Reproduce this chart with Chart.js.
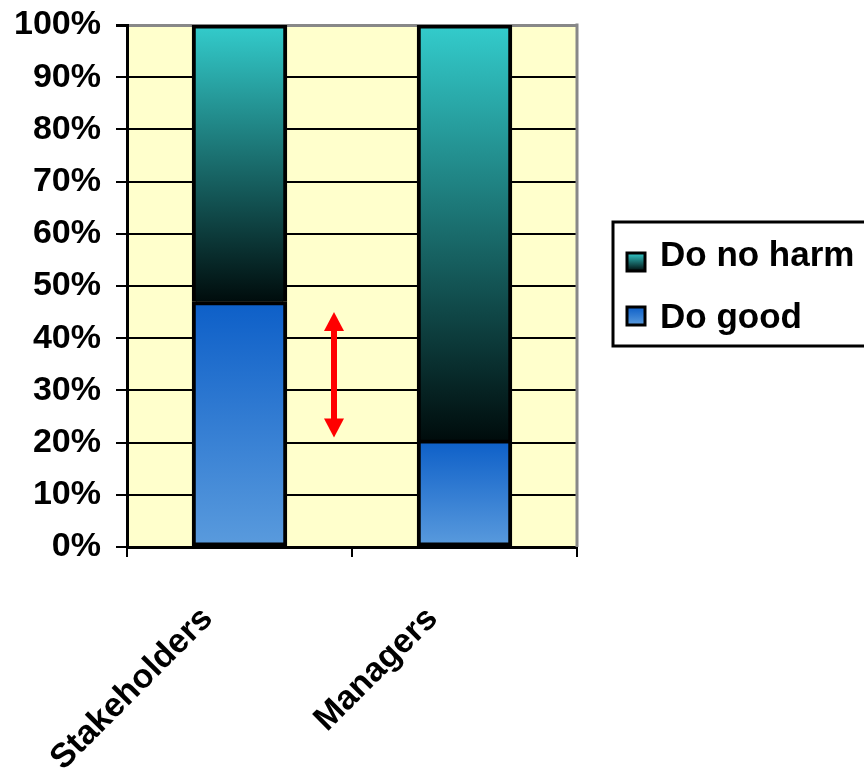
<!DOCTYPE html>
<html>
<head>
<meta charset="utf-8">
<script src="https://cdn.jsdelivr.net/npm/chart.js@4/dist/chart.umd.min.js"></script>
<style>
  html, body { margin: 0; padding: 0; background: #ffffff; }
  #wrap { width: 864px; height: 771px; }
</style>
</head>
<body>
<div id="wrap"><canvas id="c" width="864" height="771"></canvas></div>
<script>
// Survey groups and their split between the two answers (percent)
const categories = ['Stakeholders', 'Managers'];
const doGood = [47, 20.5];
const doNoHarm = [53, 79.5];
const seriesNames = ['Do good', 'Do no harm'];
const yTicks = [0, 10, 20, 30, 40, 50, 60, 70, 80, 90, 100];
// Span of the red double arrow between the groups (percent)
const gapArrow = [21, 45];

const FONT = '"Liberation Sans", Arial, sans-serif';

// Vertical gradient over one stacked segment
function segmentFill(ctx, top, bottom, fallback) {
  const chart = ctx.chart;
  const y = chart.scales.y;
  if (!chart.chartArea || !y) return fallback;
  const i = ctx.dataIndex;
  let lo, hi;
  if (ctx.datasetIndex === 0) { lo = 0; hi = doGood[i]; }
  else { lo = doGood[i]; hi = doGood[i] + doNoHarm[i]; }
  const g = chart.ctx.createLinearGradient(0, y.getPixelForValue(hi), 0, y.getPixelForValue(lo));
  g.addColorStop(0, top);
  g.addColorStop(1, bottom);
  return g;
}

const GOOD_TOP = '#0d5fc8', GOOD_BOT = '#5a9bdd';
const HARM_TOP = '#33cccc', HARM_BOT = '#000c0c';

const decor = {
  id: 'decor',
  beforeDraw(chart) {
    const { ctx, chartArea: a } = chart;
    ctx.save();
    ctx.fillStyle = '#ffffff';
    ctx.fillRect(0, 0, chart.width, chart.height);
    ctx.fillStyle = '#ffffcc';
    ctx.fillRect(a.left, a.top, a.right - a.left, a.bottom - a.top);
    ctx.restore();
  },
  beforeDatasetsDraw(chart) {
    const { ctx, chartArea: a } = chart;
    ctx.save();
    ctx.strokeStyle = '#888888';
    ctx.lineWidth = 3;
    ctx.beginPath();
    ctx.moveTo(a.right, a.top - 1.5);
    ctx.lineTo(a.right, a.bottom);
    ctx.stroke();
    ctx.restore();
  },
  afterDatasetsDraw(chart) {
    const { ctx } = chart;
    const xs = chart.scales.x, ys = chart.scales.y;
    // red double arrow
    const ax = xs.getPixelForValue(0.42);
    const yTop = ys.getPixelForValue(gapArrow[1]);
    const yBot = ys.getPixelForValue(gapArrow[0]);
    const head = 19, half = 10;
    ctx.save();
    ctx.fillStyle = '#ff0000';
    ctx.strokeStyle = '#ff0000';
    ctx.lineWidth = 6;
    ctx.beginPath();
    ctx.moveTo(ax, yTop + head - 1);
    ctx.lineTo(ax, yBot - head + 1);
    ctx.stroke();
    ctx.beginPath();
    ctx.moveTo(ax, yTop);
    ctx.lineTo(ax + half, yTop + head);
    ctx.lineTo(ax - half, yTop + head);
    ctx.closePath();
    ctx.fill();
    ctx.beginPath();
    ctx.moveTo(ax, yBot);
    ctx.lineTo(ax + half, yBot - head);
    ctx.lineTo(ax - half, yBot - head);
    ctx.closePath();
    ctx.fill();
    ctx.restore();

    // legend box
    ctx.save();
    ctx.fillStyle = '#ffffff';
    ctx.fillRect(613, 222, 260, 124);
    ctx.strokeStyle = '#000000';
    ctx.lineWidth = 3;
    ctx.strokeRect(613, 222, 260, 124);
    const items = [
      { name: seriesNames[1], top: HARM_TOP, bot: HARM_BOT, my: 262, ty: 256 },
      { name: seriesNames[0], top: GOOD_TOP, bot: GOOD_BOT, my: 316, ty: 318 }
    ];
    items.forEach(it => {
      const s = 18;
      const x0 = 627, y0 = it.my - s / 2;
      const g = ctx.createLinearGradient(0, y0, 0, y0 + s);
      g.addColorStop(0, it.top);
      g.addColorStop(1, it.bot);
      ctx.fillStyle = g;
      ctx.fillRect(x0, y0, s, s);
      ctx.lineWidth = 3;
      ctx.strokeStyle = '#000000';
      ctx.strokeRect(x0, y0, s, s);
      ctx.fillStyle = '#000000';
      ctx.font = 'bold 35px ' + FONT;
      ctx.textBaseline = 'middle';
      ctx.textAlign = 'left';
      ctx.fillText(it.name, 660, it.ty);
    });
    ctx.restore();
  }
};

new Chart(document.getElementById('c'), {
  type: 'bar',
  data: {
    labels: categories,
    datasets: [
      {
        label: seriesNames[0],
        data: doGood,
        backgroundColor: ctx => segmentFill(ctx, GOOD_TOP, GOOD_BOT, GOOD_TOP),
        borderColor: '#000000',
        borderWidth: 4,
        borderSkipped: false,
        inflateAmount: 0.5
      },
      {
        label: seriesNames[1],
        data: doNoHarm,
        backgroundColor: ctx => segmentFill(ctx, HARM_TOP, HARM_BOT, HARM_TOP),
        borderColor: '#000000',
        borderWidth: 4,
        borderSkipped: 'bottom',
        inflateAmount: 0.5
      }
    ]
  },
  options: {
    responsive: false,
    animation: false,
    devicePixelRatio: 1,
    layout: { padding: { top: 25, right: 287, left: 0, bottom: 0 } },
    categoryPercentage: 1,
    barPercentage: 0.42,
    plugins: {
      legend: { display: false },
      tooltip: { enabled: false }
    },
    scales: {
      x: {
        stacked: true,
        grid: {
          offset: true,
          drawOnChartArea: false,
          color: '#000000',
          lineWidth: 2,
          tickLength: 10
        },
        border: { color: '#000000', width: 3 },
        ticks: {
          minRotation: 45,
          maxRotation: 45,
          color: '#000000',
          font: { family: FONT, size: 34, weight: 'bold' },
          padding: 42,
          labelOffset: -32
        },
        afterFit(scale) {
          scale.height = 224;
          scale.paddingLeft = 0;
          scale.paddingRight = 0;
        }
      },
      y: {
        stacked: true,
        min: 0,
        max: 100,
        afterBuildTicks(scale) { scale.ticks = yTicks.map(v => ({ value: v })); },
        grid: {
          color: c => (c.tick && c.tick.value === 100 ? '#888888' : '#000000'),
          lineWidth: c => (c.tick && c.tick.value === 100 ? 3 : 2),
          tickColor: '#000000',
          tickLength: 11
        },
        border: { color: '#000000', width: 3 },
        ticks: {
          color: '#000000',
          padding: 15,
          font: { family: FONT, size: 34, weight: 'bold' },
          callback: v => v + '%'
        },
        afterFit(scale) {
          scale.width = 127;
          scale.paddingTop = 0;
          scale.paddingBottom = 0;
        }
      }
    }
  },
  plugins: [decor]
});
</script>
</body>
</html>
